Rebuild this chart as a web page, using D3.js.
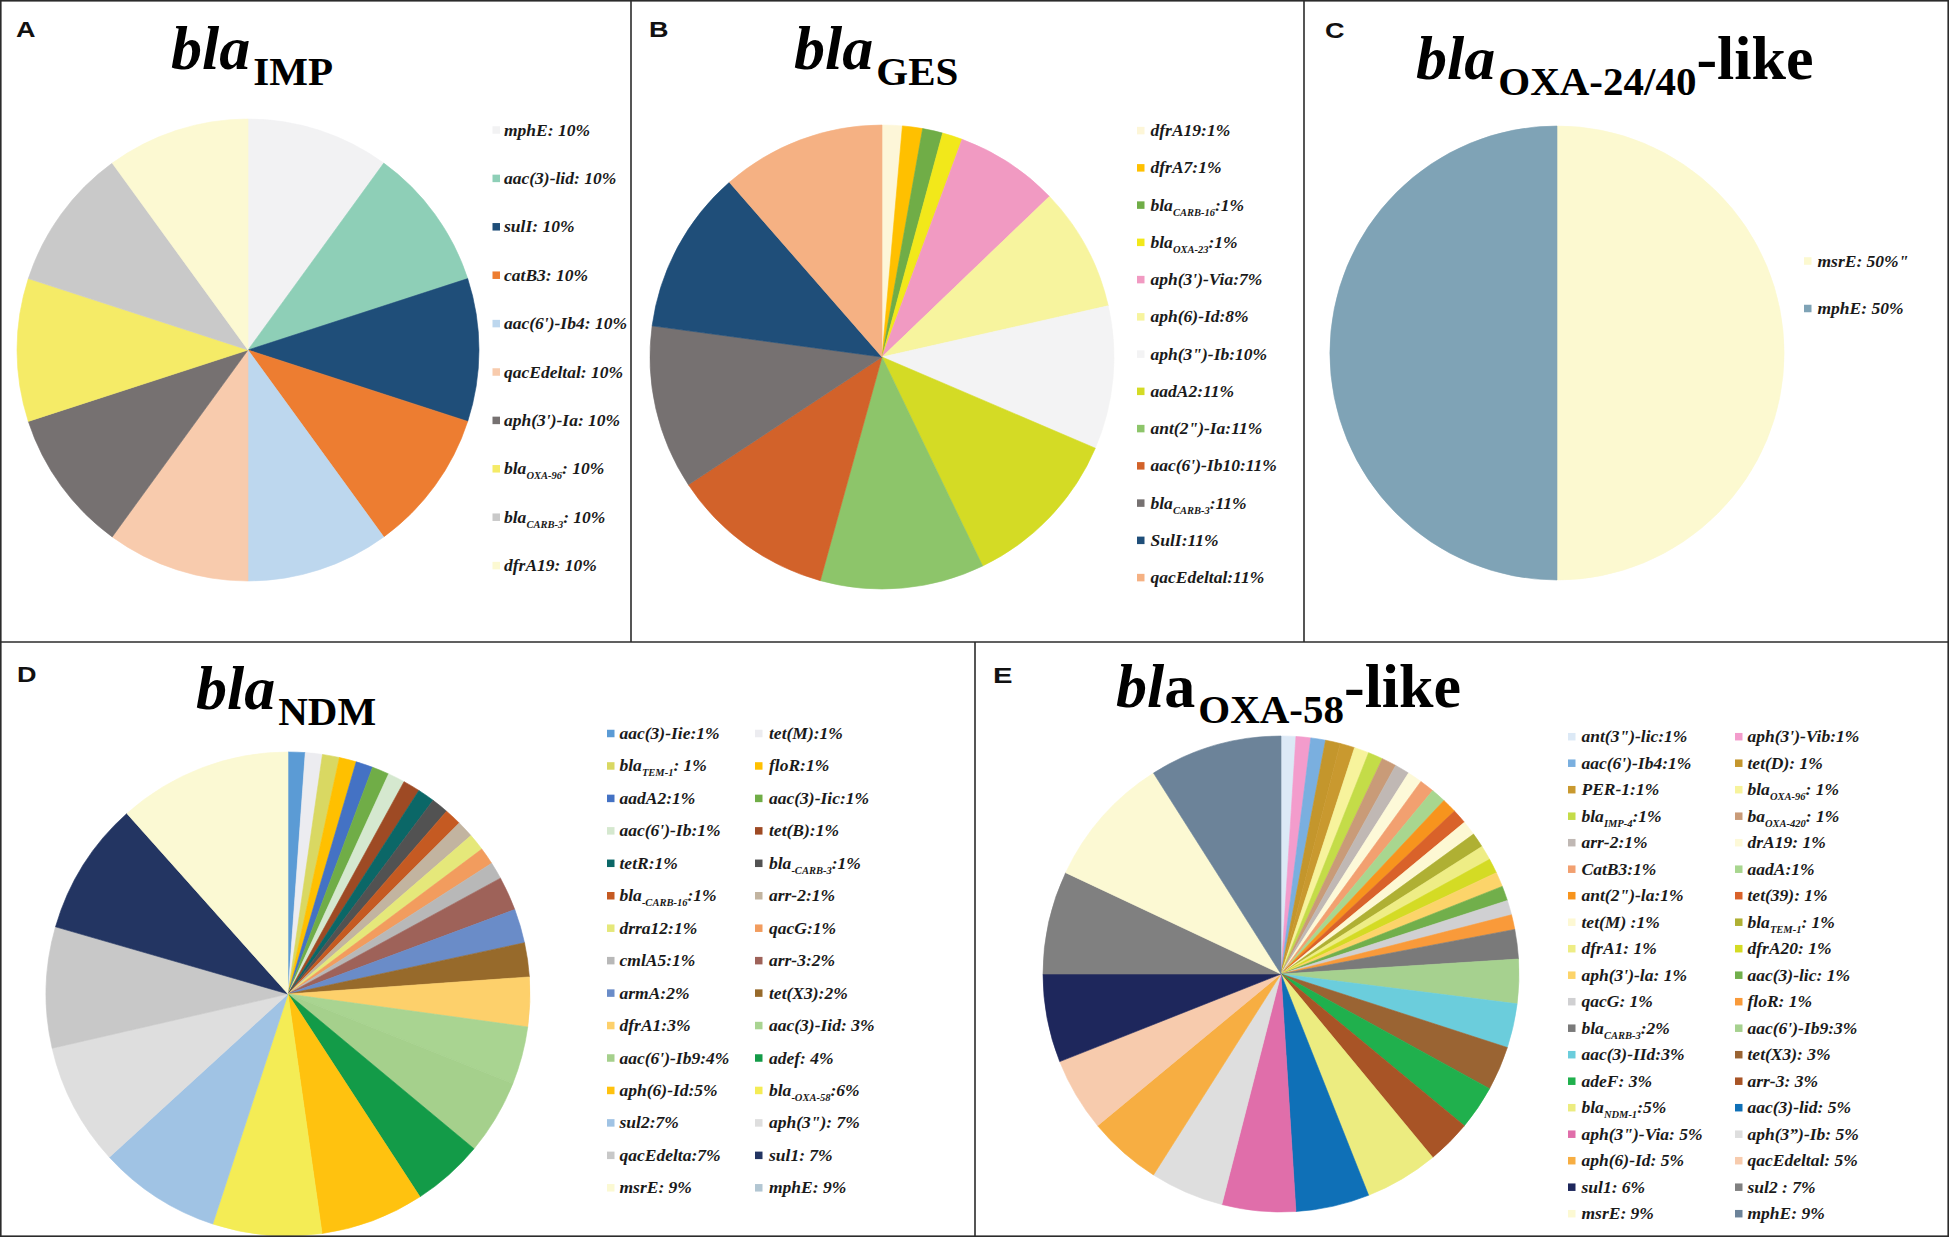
<!DOCTYPE html>
<html>
<head>
<meta charset="utf-8">
<script src="https://cdn.jsdelivr.net/npm/d3@7"></script>
<style>
  body { margin: 0; background: #fff; }
  svg { display: block; }
</style>
</head>
<body>
<svg id="chart" width="1949" height="1237"></svg>
<script>
// ---- data: gene labels (legend text, _{..} = subscript), shares, colours ----
const impGenes = ["mphE: 10%", "aac(3)-lid: 10%", "sulI: 10%", "catB3: 10%", "aac(6')-Ib4: 10%",
    "qacEdeltal: 10%", "aph(3')-Ia: 10%", "bla_{OXA-96}: 10%", "bla_{CARB-3}: 10%", "dfrA19: 10%"];
const impValues = [10, 10, 10, 10, 10, 10, 10, 10, 10, 10];
const impColors = ["#f2f2f3", "#8ecfb7", "#1f4e79", "#ed7d31", "#bdd7ee",
    "#f8cbad", "#767171", "#f5eb67", "#c9c9c9", "#fcf9d2"];

const gesGenes = ["dfrA19:1%", "dfrA7:1%", "bla_{CARB-16}:1%", "bla_{OXA-23}:1%", "aph(3')-Via:7%",
    "aph(6)-Id:8%", 'aph(3")-Ib:10%', "aadA2:11%", 'ant(2")-Ia:11%', "aac(6')-Ib10:11%",
    "bla_{CARB-3}:11%", "SulI:11%", "qacEdeltal:11%"];
const gesValues = [1.35, 1.35, 1.35, 1.35, 6.95, 8.3, 9.6, 11, 11, 11, 11, 11, 11];
const gesColors = ["#fdf6d8", "#ffc000", "#70ad47", "#f2e81a", "#f19ac2",
    "#f7f49e", "#f3f3f4", "#d4db25", "#8dc56a", "#d2622a",
    "#767171", "#1f4e79", "#f5b183"];

const oxa2440Genes = ['msrE: 50%"', "mphE: 50%"];
const oxa2440Values = [50, 50];
const oxa2440Colors = ["#fcf9d0", "#7fa3b6"];

const ndmGenes = ["aac(3)-Iie:1%", "tet(M):1%", "bla_{TEM-1}: 1%", "floR:1%", "aadA2:1%",
    "aac(3)-Iic:1%", "aac(6')-Ib:1%", "tet(B):1%", "tetR:1%", "bla_{-CARB-3}:1%",
    "bla_{-CARB-16}:1%", "arr-2:1%", "drra12:1%", "qacG:1%", "cmlA5:1%",
    "arr-3:2%", "armA:2%", "tet(X3):2%", "dfrA1:3%", "aac(3)-Iid: 3%",
    "aac(6')-Ib9:4%", "adef: 4%", "aph(6)-Id:5%", "bla_{-OXA-58}:6%", "sul2:7%",
    'aph(3"): 7%', "qacEdelta:7%", "sul1: 7%", "msrE: 9%", "mphE: 9%"];
// mphE is in the legend but has no slice in the original pie
const ndmValues = [1, 1, 1, 1, 1, 1, 1, 1, 1, 1, 1, 1, 1, 1, 1,
    2, 2, 2, 2.9, 3.4, 4.4, 4.2, 6.1, 6.4, 7.2, 7.2, 7.1, 7.85, 10.2, 0];
const ndmColors = ["#5b9bd5", "#ececf0", "#d9d862", "#ffc000", "#4472c4",
    "#70ad47", "#d5e8cf", "#9e4a24", "#0b6767", "#525252",
    "#c55a22", "#c2b4a0", "#e5e87a", "#f29c5e", "#b8b8b8",
    "#9e6259", "#6a8cc8", "#976a2b", "#fdd06b", "#a9d491",
    "#a5d08c", "#139b48", "#ffc20f", "#f4ec55", "#a0c3e4",
    "#dedede", "#c8c8c8", "#233562", "#fbf9d3", "#b2c6d2"];

const oxa58Genes = ['ant(3")-lic:1%', "aph(3')-Vib:1%", "aac(6')-Ib4:1%", "tet(D): 1%", "PER-1:1%",
    "bla_{OXA-96}: 1%", "bla_{IMP-4}:1%", "ba_{OXA-420}: 1%", "arr-2:1%", "drA19: 1%",
    "CatB3:1%", "aadA:1%", 'ant(2")-la:1%', "tet(39): 1%", "tet(M) :1%",
    "bla_{TEM-1}: 1%", "dfrA1: 1%", "dfrA20: 1%", "aph(3')-la: 1%", "aac(3)-lic: 1%",
    "qacG: 1%", "floR: 1%", "bla_{CARB-3}:2%", "aac(6')-Ib9:3%", "aac(3)-IId:3%",
    "tet(X3): 3%", "adeF: 3%", "arr-3: 3%", "bla_{NDM-1}:5%", "aac(3)-lid: 5%",
    'aph(3")-Via: 5%', " aph(3\u201d)-Ib: 5%", "aph(6)-Id: 5%", "qacEdeltal: 5%", "sul1: 6%",
    "sul2 : 7%", "msrE: 9%", "mphE: 9%"];
const oxa58Values = [1, 1, 1, 1, 1, 1, 1, 1, 1, 1, 1, 1, 1, 1, 1, 1, 1, 1, 1, 1, 1, 1,
    2, 3, 3, 3, 3, 3, 5, 5, 5, 5, 5, 5, 6, 7, 9, 9];
const oxa58Colors = ["#dce9f6", "#f39ccc", "#7aafdf", "#c4962c", "#c9992f",
    "#f7f39c", "#c4dc48", "#c99b78", "#c0b8b4", "#fdf9d8",
    "#f2a070", "#a8d68f", "#f7941d", "#d9622a", "#fdf8d3",
    "#afb033", "#eeed85", "#d4db24", "#fcd46a", "#71af4b",
    "#d0d0d2", "#f99a3a", "#7a7a7a", "#a6d18f", "#6bcddc",
    "#9a6433", "#20b04d", "#a85426", "#ecec80", "#0f70b7",
    "#e06eaa", "#dedede", "#f7ae42", "#f7cbad", "#1e275c",
    "#808080", "#fcf9d3", "#6c8399"];

// ---- layout ----
const serif = "'Liberation Serif', 'Times New Roman', serif";
const sans = "'Liberation Sans', Arial, sans-serif";

const panels = [
    { letter: "A", lx: 16, ly: 37,
      title: [{ t: "bla", it: true }, { t: "IMP", sub: true }], tx: 171, ty: 68.5,
      cx: 248, cy: 350, r: 231,
      genes: impGenes, values: impValues, colors: impColors,
      legend: { sq: [492.5], tx: [504], y0: 130, step: 48.4 } },
    { letter: "B", lx: 649, ly: 37,
      title: [{ t: "bla", it: true }, { t: "GES", sub: true }], tx: 794, ty: 68.5,
      cx: 882, cy: 357, r: 232,
      genes: gesGenes, values: gesValues, colors: gesColors,
      legend: { sq: [1137], tx: [1150.5], y0: 130.6, step: 37.25 } },
    { letter: "C", lx: 1325, ly: 38,
      title: [{ t: "bla", it: true }, { t: "OXA-24/40", sub: true }, { t: "-like" }], tx: 1416, ty: 79,
      cx: 1557, cy: 353, r: 227,
      genes: oxa2440Genes, values: oxa2440Values, colors: oxa2440Colors,
      legend: { sq: [1804], tx: [1817.5], y0: 261, step: 47.5 } },
    { letter: "D", lx: 17, ly: 682,
      title: [{ t: "bla", it: true }, { t: "NDM", sub: true }], tx: 196, ty: 709,
      cx: 288, cy: 994, r: 242,
      genes: ndmGenes, values: ndmValues, colors: ndmColors,
      legend: { sq: [607, 755], tx: [619.5, 769], y0: 733.5, step: 32.45 } },
    { letter: "E", lx: 993, ly: 683,
      title: [{ t: "bl", it: true }, { t: "a" }, { t: "OXA-58", sub: true }, { t: "-like" }], tx: 1116, ty: 707,
      cx: 1281, cy: 974, r: 238,
      genes: oxa58Genes, values: oxa58Values, colors: oxa58Colors,
      legend: { sq: [1568, 1735], tx: [1581.5, 1747.5], y0: 736.7, step: 26.5 } }
];

const svg = d3.select("#chart");
svg.append("rect").attr("width", 1949).attr("height", 1237).attr("fill", "#fff");

// text with _{sub} parts
function addRich(textSel, str, subSize, shift) {
    const parts = str.split(/_\{([^}]*)\}/);
    let down = false;
    parts.forEach((p, i) => {
        if (p === "") return;
        const t = textSel.append("tspan").text(p);
        if (i % 2 === 1) {
            t.attr("font-size", subSize).attr("dy", shift);
            down = true;
        } else if (down) {
            t.attr("dy", -shift);
            down = false;
        }
    });
}

function drawPanel(p) {
    const g = svg.append("g").attr("class", "panel-" + p.letter);

    g.append("text")
        .attr("x", p.lx)
        .attr("y", p.ly)
        .attr("font-family", sans)
        .attr("font-weight", "bold")
        .attr("font-size", 22)
        .attr("textLength", 19.5)
        .attr("lengthAdjust", "spacingAndGlyphs")
        .attr("fill", "#111")
        .text(p.letter);

    // title
    let title = g.append("text")
        .attr("x", p.tx)
        .attr("y", p.ty)
        .attr("font-family", serif)
        .attr("font-weight", "bold")
        .attr("fill", "#000");
    let down = false;
    p.title.forEach(seg => {
        let t = title.append("tspan").text(seg.t)
            .attr("font-size", seg.sub ? 41 : 62)
            .attr("font-style", seg.it ? "italic" : "normal");
        if (seg.sub) { t.attr("dy", 16).attr("dx", 3); down = true; }
        else if (down) { t.attr("dy", -16); down = false; }
    });

    // pie
    const pie = d3.pie().sort(null).value(d => d.value);
    const arc = d3.arc().innerRadius(0).outerRadius(p.r);
    const rows = p.genes.map((name, i) => ({ name: name, value: p.values[i], color: p.colors[i] }));

    g.append("g")
        .attr("transform", `translate(${p.cx},${p.cy})`)
        .selectAll("path")
        .data(pie(rows))
        .join("path")
        .attr("d", arc)
        .attr("fill", d => d.data.color)
        .attr("stroke", d => d.data.color)
        .attr("stroke-width", d => d.data.value > 0 ? 0.6 : 0);

    // legend
    const ncol = p.legend.sq.length;
    const leg = g.append("g");
    rows.forEach((d, i) => {
        const col = i % ncol;
        const row = Math.floor(i / ncol);
        const y = p.legend.y0 + row * p.legend.step;
        leg.append("rect")
            .attr("x", p.legend.sq[col])
            .attr("y", y - 3.75)
            .attr("width", 7.5)
            .attr("height", 7.5)
            .attr("fill", d.color);
        let t = leg.append("text")
            .attr("x", p.legend.tx[col])
            .attr("y", y + 5.5)
            .attr("font-family", serif)
            .attr("font-style", "italic")
            .attr("font-weight", "bold")
            .attr("font-size", 17.5)
            .attr("fill", "#1a1a1a");
        addRich(t, d.name, 10.5, 5);
    });
}

panels.forEach(drawPanel);

// frame
const frame = svg.append("g")
    .attr("stroke", "#2b2b2b")
    .attr("stroke-width", 1.6)
    .attr("fill", "none");
frame.append("rect").attr("x", 0.8).attr("y", 0.8).attr("width", 1947.4).attr("height", 1235.4);
frame.append("line").attr("x1", 0).attr("x2", 1949).attr("y1", 642).attr("y2", 642);
frame.append("line").attr("x1", 631).attr("x2", 631).attr("y1", 0).attr("y2", 642);
frame.append("line").attr("x1", 1304).attr("x2", 1304).attr("y1", 0).attr("y2", 642);
frame.append("line").attr("x1", 975).attr("x2", 975).attr("y1", 642).attr("y2", 1237);
</script>
</body>
</html>
